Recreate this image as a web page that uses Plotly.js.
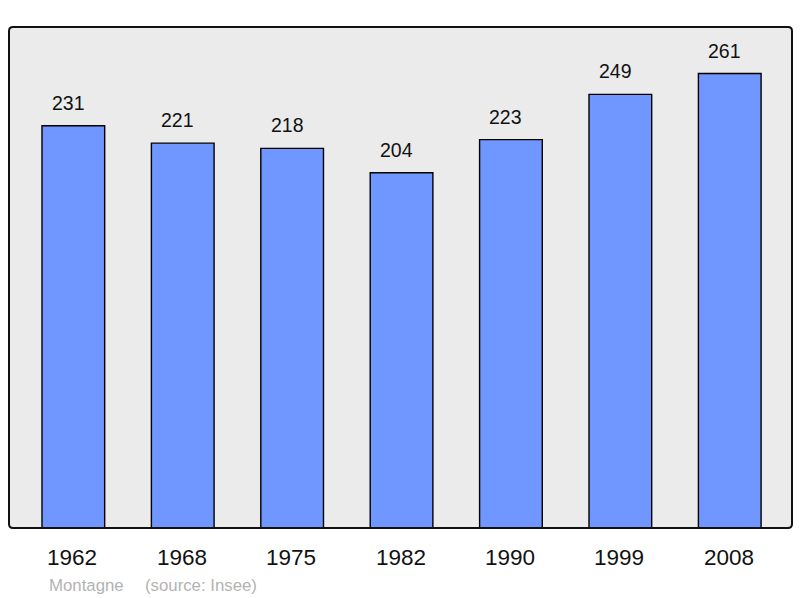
<!DOCTYPE html>
<html><head><meta charset="utf-8">
<script src="https://cdn.plot.ly/plotly-3.0.1.min.js"></script>
<style>html,body{margin:0;padding:0;background:#fff;}#chart{width:800px;height:598px;}</style>
</head><body><div id="chart"></div>
<script>
const years = ["1962","1968","1975","1982","1990","1999","2008"];
const population = [231,221,218,204,223,249,261];
const footerName = "Montagne";
const footerSource = "(source: Insee)";

const FONT = "Liberation Sans, Arial, sans-serif";
const idx = years.map((_, i) => i);

const trace = {
  type: "bar",
  x: idx,
  y: population,
  width: 0.573,
  marker: {color: "#7097ff", line: {color: "#000", width: 1.4}},
  hoverinfo: "skip"
};

const annotations = [];
population.forEach((v, i) => {
  annotations.push({x: i, y: v, xref: "x", yref: "y", text: String(v), showarrow: false,
    yanchor: "middle", yshift: 23, xshift: -5, font: {family: FONT, size: 19.5, color: "#111"}});
});
years.forEach((yr, i) => {
  annotations.push({x: i, y: 0, xref: "x", yref: "paper", text: yr, showarrow: false,
    yanchor: "middle", yshift: -29, xshift: -1, font: {family: FONT, size: 22.5, color: "#111"}});
});
annotations.push({x: 0, y: 0, xref: "paper", yref: "paper", text: footerName, showarrow: false,
  xanchor: "left", yanchor: "middle", xshift: 38, yshift: -57, font: {family: FONT, size: 16.8, color: "#b3b3b3"}});
annotations.push({x: 0, y: 0, xref: "paper", yref: "paper", text: footerSource, showarrow: false,
  xanchor: "left", yanchor: "middle", xshift: 134, yshift: -57, font: {family: FONT, size: 16.8, color: "#b3b3b3"}});

// rounded frame
const rx = 4/783, ry = 4/501;
const framePath = `M ${rx},0 L ${1-rx},0 Q 1,0 1,${ry} L 1,${1-ry} Q 1,1 ${1-rx},1 L ${rx},1 Q 0,1 0,${1-ry} L 0,${ry} Q 0,0 ${rx},0 Z`;

const layout = {
  width: 800, height: 598,
  margin: {l: 9, r: 8, t: 27, b: 70, pad: 0},
  paper_bgcolor: "#ffffff",
  plot_bgcolor: "#ebebeb",
  showlegend: false,
  bargap: 0,
  xaxis: {range: [-0.588, 6.569], showticklabels: false, showgrid: false, zeroline: false, ticks: "", fixedrange: true},
  yaxis: {range: [0, 287.7], showticklabels: false, showgrid: false, zeroline: false, ticks: "", fixedrange: true},
  annotations: annotations,
  shapes: [{type: "path", xref: "paper", yref: "paper", path: framePath, line: {color: "#111", width: 2}, fillcolor: "rgba(0,0,0,0)", layer: "above"}]
};

Plotly.newPlot("chart", [trace], layout, {staticPlot: true, displayModeBar: false});
</script>
</body></html>
